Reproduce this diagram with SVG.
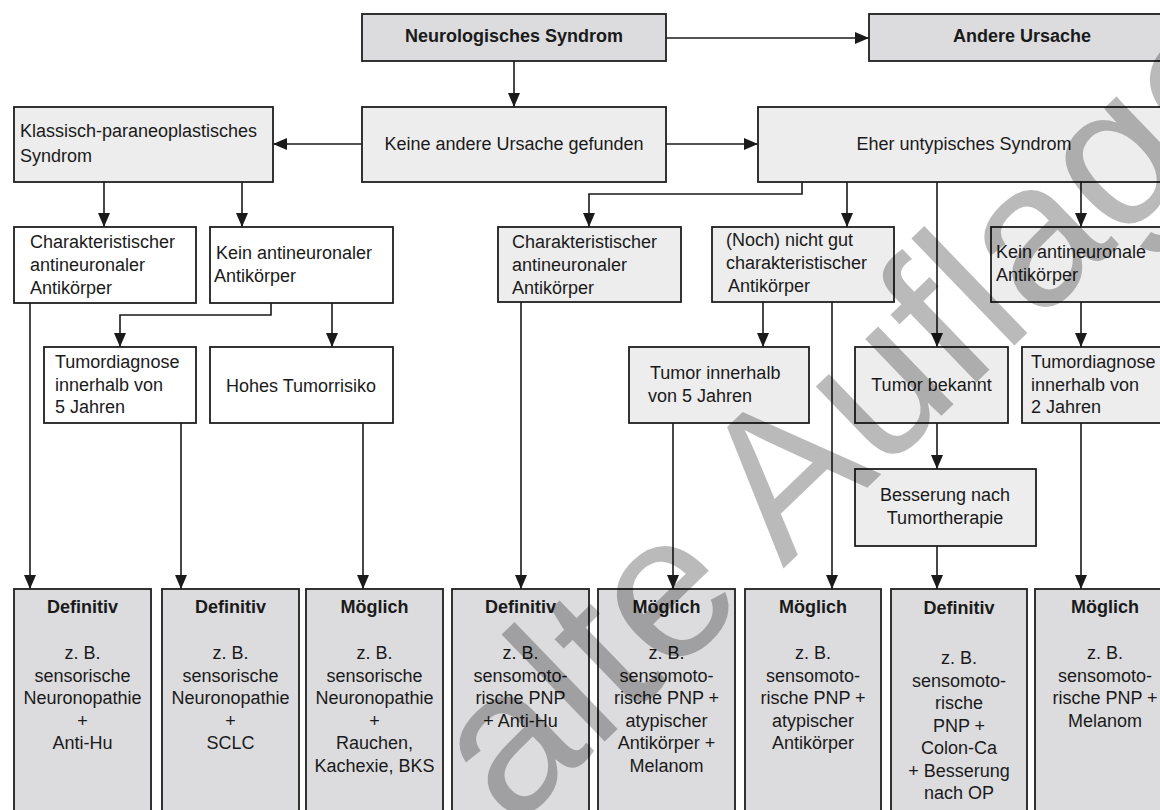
<svg xmlns="http://www.w3.org/2000/svg" width="1160" height="810" viewBox="0 0 1160 810">
<defs>
<style>
.dark{fill:#dcdcde;stroke:#1e1e1e;stroke-width:1.8}
.light{fill:#ededed;stroke:#1e1e1e;stroke-width:1.8}
.white{fill:#ffffff;stroke:#1e1e1e;stroke-width:1.8}
text{font-family:"Liberation Sans",Arial,sans-serif;font-size:18px;fill:#1a1a1a}
.b{font-weight:bold}
.c{text-anchor:middle}
.conn path{fill:none;stroke:#1a1a1a;stroke-width:1.6;marker-end:url(#arr)}
.wm{font-family:"Liberation Sans",Arial,sans-serif;font-size:205px;fill:#000;fill-opacity:0.27;text-anchor:middle}
</style>
<marker id="arr" markerUnits="userSpaceOnUse" markerWidth="14" markerHeight="14" refX="14" refY="7" orient="auto">
<path d="M0,1 L14,7 L0,13 z" fill="#1a1a1a"/>
</marker>
</defs>
<rect width="1160" height="810" fill="#ffffff"/>

<g id="connectors" class="conn">
<path d="M666,38 H869"/>
<path d="M514,61 V107"/>
<path d="M362,144 H273"/>
<path d="M666,144 H758"/>
<path d="M104,182 V227"/>
<path d="M242,182 V227"/>
<path d="M30,303 V589"/>
<path d="M271,303 V315 H120 V347"/>
<path d="M332,303 V347"/>
<path d="M181,423 V589"/>
<path d="M363,423 V589"/>
<path d="M802,182 V194 H589 V227"/>
<path d="M847,182 V227"/>
<path d="M937,182 V347"/>
<path d="M1081,182 V227"/>
<path d="M521,302 V589"/>
<path d="M763,302 V347"/>
<path d="M832,302 V589"/>
<path d="M673,423 V589"/>
<path d="M937,423 V469"/>
<path d="M937,546 V589"/>
<path d="M1081,302 V347"/>
<path d="M1081,423 V589"/>
</g>

<g id="n-neuro"><rect class="dark" x="362" y="14" width="304" height="47"/><text class="b c" x="514" y="42">Neurologisches Syndrom</text></g>
<g id="n-andere"><rect class="dark" x="869" y="14" width="301" height="47"/><text class="b c" x="1022" y="42">Andere Ursache</text></g>

<g id="n-keine"><rect class="light" x="362" y="107" width="304" height="75"/><text class="c" x="514" y="150">Keine andere Ursache gefunden</text></g>
<g id="n-klassisch"><rect class="light" x="14" y="107" width="259" height="75"/><text x="20" y="137">Klassisch-paraneoplastisches</text><text x="20" y="162">Syndrom</text></g>
<g id="n-eher"><rect class="light" x="758" y="107" width="412" height="75"/><text class="c" x="964" y="150">Eher untypisches Syndrom</text></g>

<g id="n-char1"><rect class="white" x="14" y="227" width="182" height="76"/><text x="30" y="248">Charakteristischer</text><text x="30" y="271">antineuronaler</text><text x="30" y="294">Antikörper</text></g>
<g id="n-kein1"><rect class="white" x="210" y="227" width="183" height="76"/><text x="216" y="259">Kein antineuronaler</text><text x="214" y="282">Antikörper</text></g>
<g id="n-tumdiag1"><rect class="white" x="44" y="347" width="152" height="76"/><text x="55" y="368">Tumordiagnose</text><text x="55" y="391">innerhalb von</text><text x="55" y="413">5 Jahren</text></g>
<g id="n-hohes"><rect class="white" x="210" y="347" width="183" height="76"/><text class="c" x="301" y="392">Hohes Tumorrisiko</text></g>

<g id="n-char2"><rect class="light" x="498" y="227" width="183" height="75"/><text x="512" y="248">Charakteristischer</text><text x="512" y="271">antineuronaler</text><text x="512" y="294">Antikörper</text></g>
<g id="n-noch"><rect class="light" x="712" y="227" width="182" height="75"/><text x="726" y="246">(Noch) nicht gut</text><text x="726" y="269">charakteristischer</text><text x="728" y="292">Antikörper</text></g>
<g id="n-kein2"><rect class="light" x="991" y="227" width="180" height="75"/><text x="996" y="258">Kein antineuronale</text><text x="996" y="281">Antikörper</text></g>
<g id="n-tumor5"><rect class="light" x="629" y="347" width="180" height="76"/><text x="650" y="379">Tumor innerhalb</text><text x="648" y="402">von 5 Jahren</text></g>
<g id="n-tumorbek"><rect class="light" x="855" y="347" width="153" height="76"/><text class="c" x="931.5" y="391">Tumor bekannt</text></g>
<g id="n-tumdiag2"><rect class="light" x="1022" y="347" width="149" height="76"/><text x="1031" y="368">Tumordiagnose</text><text x="1031" y="391">innerhalb von</text><text x="1031" y="413">2 Jahren</text></g>
<g id="n-besserung"><rect class="light" x="855" y="469" width="181" height="77"/><text class="c" x="945" y="501">Besserung nach</text><text class="c" x="945" y="524">Tumortherapie</text></g>

<g id="n-res1"><rect class="dark" x="14" y="589" width="137" height="230"/>
<text class="b c" x="82.5" y="613">Definitiv</text>
<text class="c" x="82.5" y="659">z. B.</text><text class="c" x="82.5" y="681.6">sensorische</text><text class="c" x="82.5" y="704.2">Neuronopathie</text><text class="c" x="82.5" y="726.8">+</text><text class="c" x="82.5" y="749.4">Anti-Hu</text></g>
<g id="n-res2"><rect class="dark" x="162" y="589" width="137" height="230"/>
<text class="b c" x="230.5" y="613">Definitiv</text>
<text class="c" x="230.5" y="659">z. B.</text><text class="c" x="230.5" y="681.6">sensorische</text><text class="c" x="230.5" y="704.2">Neuronopathie</text><text class="c" x="230.5" y="726.8">+</text><text class="c" x="230.5" y="749.4">SCLC</text></g>
<g id="n-res3"><rect class="dark" x="306" y="589" width="137" height="230"/>
<text class="b c" x="374.5" y="613">Möglich</text>
<text class="c" x="374.5" y="659">z. B.</text><text class="c" x="374.5" y="681.6">sensorische</text><text class="c" x="374.5" y="704.2">Neuronopathie</text><text class="c" x="374.5" y="726.8">+</text><text class="c" x="374.5" y="749.4">Rauchen,</text><text class="c" x="374.5" y="772">Kachexie, BKS</text></g>
<g id="n-res4"><rect class="dark" x="452" y="589" width="137" height="230"/>
<text class="b c" x="520.5" y="613">Definitiv</text>
<text class="c" x="520.5" y="659">z. B.</text><text class="c" x="520.5" y="681.6">sensomoto-</text><text class="c" x="520.5" y="704.2">rische PNP</text><text class="c" x="520.5" y="726.8">+ Anti-Hu</text></g>
<g id="n-res5"><rect class="dark" x="598" y="589" width="137" height="230"/>
<text class="b c" x="666.5" y="613">Möglich</text>
<text class="c" x="666.5" y="659">z. B.</text><text class="c" x="666.5" y="681.6">sensomoto-</text><text class="c" x="666.5" y="704.2">rische PNP +</text><text class="c" x="666.5" y="726.8">atypischer</text><text class="c" x="666.5" y="749.4">Antikörper +</text><text class="c" x="666.5" y="772">Melanom</text></g>
<g id="n-res6"><rect class="dark" x="745" y="589" width="136" height="230"/>
<text class="b c" x="813" y="613">Möglich</text>
<text class="c" x="813" y="659">z. B.</text><text class="c" x="813" y="681.6">sensomoto-</text><text class="c" x="813" y="704.2">rische PNP +</text><text class="c" x="813" y="726.8">atypischer</text><text class="c" x="813" y="749.4">Antikörper</text></g>
<g id="n-res7"><rect class="dark" x="891" y="589" width="136" height="230"/>
<text class="b c" x="959" y="614">Definitiv</text>
<text class="c" x="959" y="664">z. B.</text><text class="c" x="959" y="686.5">sensomoto-</text><text class="c" x="959" y="709">rische</text><text class="c" x="959" y="731.5">PNP +</text><text class="c" x="959" y="754">Colon-Ca</text><text class="c" x="959" y="776.5">+ Besserung</text><text class="c" x="959" y="799">nach OP</text></g>
<g id="n-res8"><rect class="dark" x="1035" y="589" width="140" height="230"/>
<text class="b c" x="1105" y="613">Möglich</text>
<text class="c" x="1105" y="659">z. B.</text><text class="c" x="1105" y="681.6">sensomoto-</text><text class="c" x="1105" y="704.2">rische PNP +</text><text class="c" x="1105" y="726.8">Melanom</text></g>

<g id="watermark"><text class="wm" x="898" y="458" transform="rotate(-44 898 458)">alte Auflage</text></g>
</svg>
